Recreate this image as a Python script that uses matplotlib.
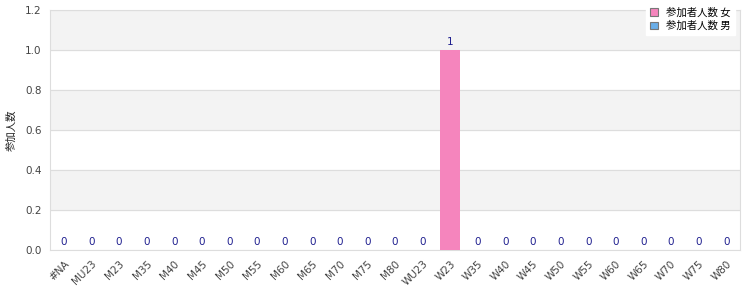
import matplotlib
matplotlib.use("Agg")
import matplotlib.pyplot as plt
import numpy as np

plt.rcParams['font.family'] = ['DejaVu Sans', 'Noto Sans CJK JP']

categories = ['#NA', 'MU23', 'M23', 'M35', 'M40', 'M45', 'M50', 'M55', 'M60',
              'M65', 'M70', 'M75', 'M80', 'WU23', 'W23', 'W35', 'W40', 'W45',
              'W50', 'W55', 'W60', 'W65', 'W70', 'W75', 'W80']
women = [0, 0, 0, 0, 0, 0, 0, 0, 0, 0, 0, 0, 0, 0, 1, 0, 0, 0, 0, 0, 0, 0, 0, 0, 0]
men = [0, 0, 0, 0, 0, 0, 0, 0, 0, 0, 0, 0, 0, 0, 0, 0, 0, 0, 0, 0, 0, 0, 0, 0, 0]
series_names = ['参加者人数 女', '参加者人数 男']
ylabel = '参加人数'

fig = plt.figure(figsize=(7.5, 3), dpi=100)
ax = fig.add_axes([50 / 750, 50 / 300, 690 / 750, 240 / 300])

x = np.arange(len(categories))
ax.bar(x, women, width=0.72, color='#f585bd', label=series_names[0], zorder=3)
ax.bar(x, men, width=0.72, bottom=women, color='#6aaee8', label=series_names[1], zorder=3)

totals = np.array(women) + np.array(men)
for xi, t in zip(x, totals):
    ax.text(xi, t + 0.015, str(t), ha='center', va='bottom', fontsize=7.5,
            color='#1f1f8f', zorder=4)

ax.set_xlim(-0.5, len(categories) - 0.5)
ax.set_ylim(0, 1.2)
yt = np.arange(0, 1.21, 0.2)
ax.set_yticks(yt)
ax.set_yticklabels(['%.1f' % v for v in yt])
for i in range(len(yt) - 1):
    if i % 2 == 1:
        ax.axhspan(yt[i], yt[i + 1], color='#f3f3f3', zorder=0)
ax.grid(axis='y', color='#dddddd', linewidth=0.8, zorder=1)

ax.set_xticks(x)
ax.set_xticklabels(categories, rotation=45, ha='right', rotation_mode='anchor')
ax.tick_params(length=0, labelsize=7.5, colors='#444444', pad=6)
for s in ax.spines.values():
    s.set_color('#dddddd')
ax.set_ylabel(ylabel, fontsize=7.5, color='#222222',
              family=['Noto Sans CJK JP', 'DejaVu Sans'], labelpad=6)

leg = ax.legend(loc='upper right', bbox_to_anchor=(1.0, 1.05), fontsize=7.5,
                frameon=True, fancybox=False, edgecolor='white', framealpha=1,
                handlelength=0.7, handleheight=0.7, borderpad=0.4, labelspacing=0.3,
                prop={'family': ['Noto Sans CJK JP', 'DejaVu Sans'], 'size': 7.5})
for h in leg.legend_handles:
    h.set_edgecolor('#777777')
    h.set_linewidth(0.8)
leg.set_zorder(10)

fig.savefig('out.png', dpi=100)
